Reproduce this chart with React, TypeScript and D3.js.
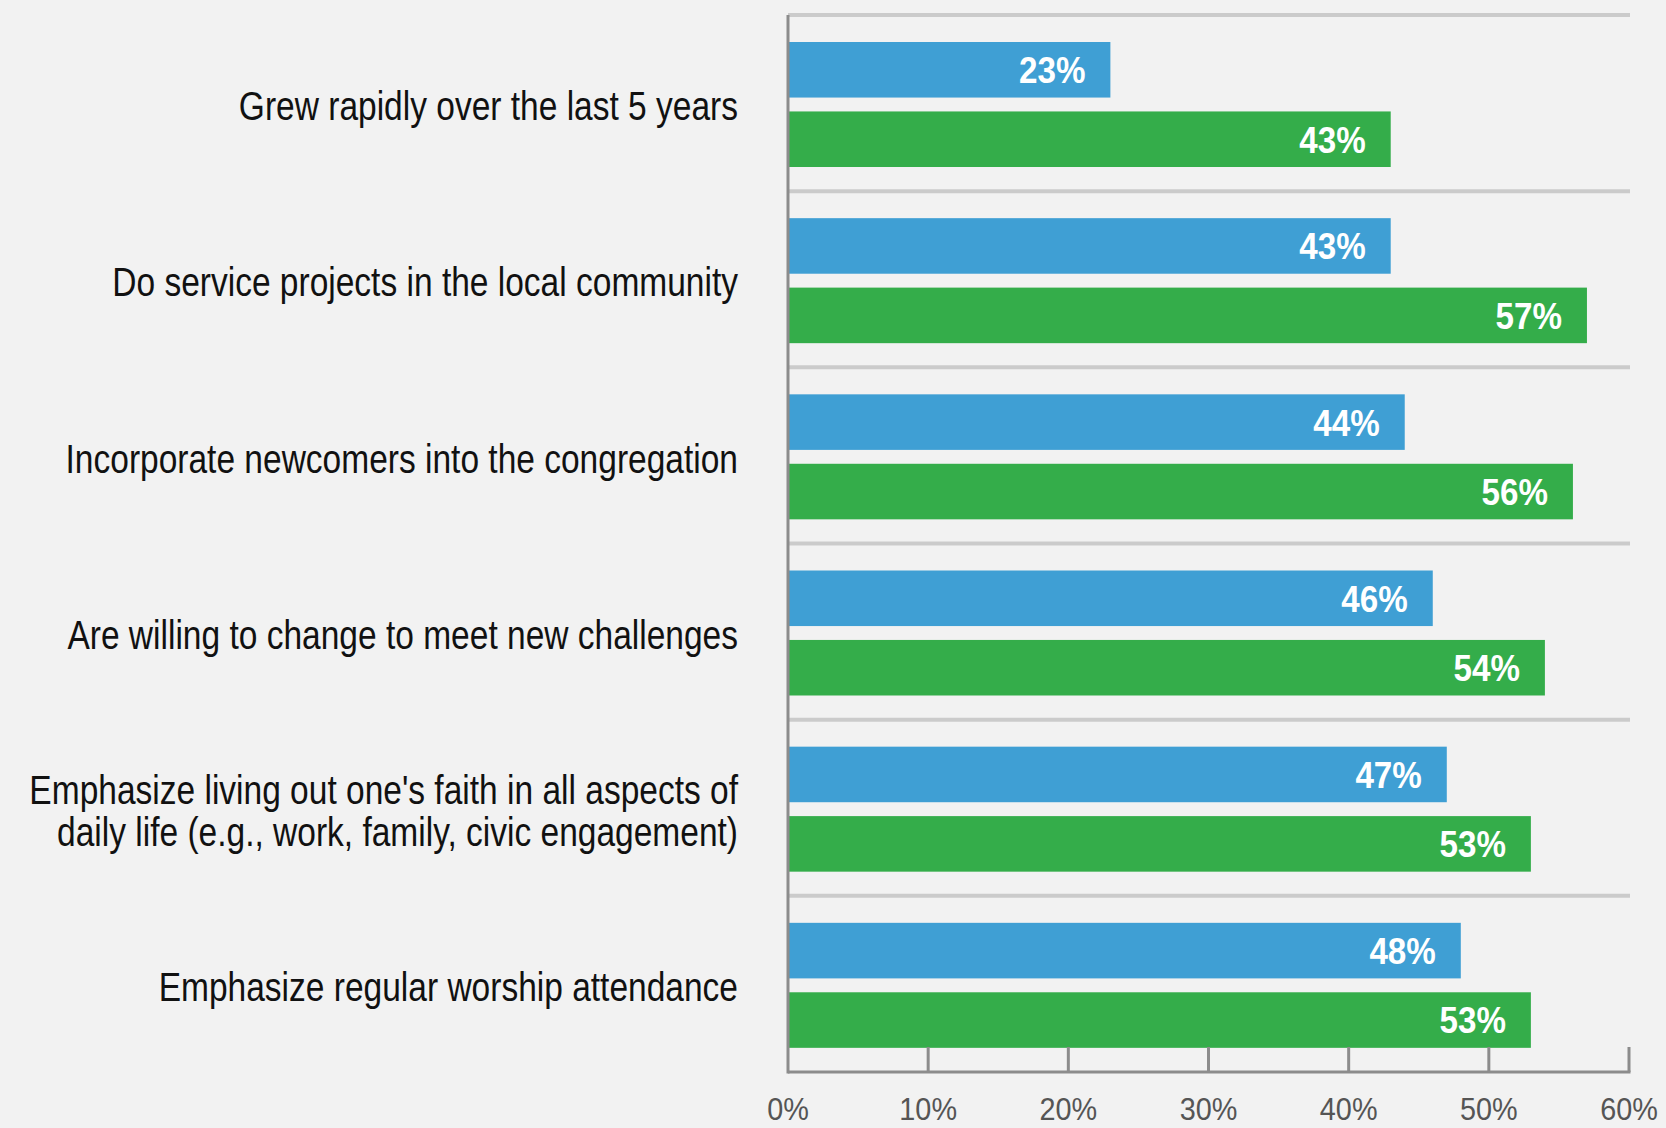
import React from "react";
import * as d3 from "d3";

const categories = [
  ["Grew rapidly over the last 5 years"],
  ["Do service projects in the local community"],
  ["Incorporate newcomers into the congregation"],
  ["Are willing to change to meet new challenges"],
  ["Emphasize living out one's faith in all aspects of", "daily life (e.g., work, family, civic engagement)"],
  ["Emphasize regular worship attendance"],
];
const seriesNames = ["blue", "green"];
const blueValues = [23, 43, 44, 46, 47, 48];
const greenValues = [43, 57, 56, 54, 53, 53];
const tickValues = [0, 10, 20, 30, 40, 50, 60];

const W = 1666;
const H = 1128;
const COLORS: Record<string, string> = { blue: "#3f9fd4", green: "#34ad4a" };
const FONT = "'Liberation Sans', Arial, sans-serif";

export default function App() {
  const keys = categories.map((c) => c.join(" "));
  const x = d3.scaleLinear().domain([0, 60]).range([788, 1629]);
  const y = d3.scaleBand<string>().domain(keys).range([15, 1072]).paddingInner(0).paddingOuter(0);
  const sub = d3.scaleBand<string>().domain(seriesNames).range([27, 152]).paddingInner(0.2);
  const values: Record<string, number[]> = { blue: blueValues, green: greenValues };
  const axisColor = "#8c8c8c";
  const sepColor = "#cbcbcb";
  const yBottom = 1072;

  return (
    <svg width={W} height={H} style={{ position: "absolute", left: 0, top: 0 }} fontFamily={FONT}>
      <rect x={0} y={0} width={W} height={H} fill="#f2f2f2" />
      {/* separators */}
      {keys.map((k) => (
        <line key={"s" + k} x1={x(0)} x2={x(60) + 1} y1={y(k)!} y2={y(k)!} stroke={sepColor} strokeWidth={4} />
      ))}
      {/* bars */}
      {keys.map((k, i) =>
        seriesNames.map((s) => {
          const v = values[s][i];
          const y0 = y(k)! + sub(s)!;
          const bh = sub.bandwidth();
          return (
            <g key={k + s}>
              <rect x={x(0)} y={y0} width={x(v) - x(0)} height={bh} fill={COLORS[s]} />
              <g transform={`translate(${x(v) - 25},${y0 + bh / 2}) scale(0.885,1)`}>
                <text x={0} y={0} dy="0.358em" textAnchor="end" fill="#ffffff" fontWeight="bold" fontSize={37.5}>
                  {v}%
                </text>
              </g>
            </g>
          );
        })
      )}
      {/* category labels */}
      {categories.map((lines, i) => {
        const k = keys[i];
        const cy = y(k)! + 91;
        const lh = 43;
        return (
          <g key={"c" + k} transform={`translate(738,${cy}) scale(0.838,1)`}>
            <text textAnchor="end" fontSize={40} fill="#111111">
              {lines.map((ln, j) => (
                <tspan key={j} x={0} y={(j - (lines.length - 1) / 2) * lh} dy="0.358em">
                  {ln}
                </tspan>
              ))}
            </text>
          </g>
        );
      })}
      {/* axes */}
      <line x1={x(0)} x2={x(0)} y1={15} y2={yBottom + 1.5} stroke={axisColor} strokeWidth={3} />
      <line x1={x(0)} x2={x(60) + 1.5} y1={yBottom} y2={yBottom} stroke={axisColor} strokeWidth={3} />
      {tickValues.map((t) => (
        <g key={"t" + t}>
          {t > 0 && <line x1={x(t)} x2={x(t)} y1={yBottom - 25} y2={yBottom} stroke={axisColor} strokeWidth={3} />}
          <g transform={`translate(${x(t)},1109) scale(0.93,1)`}>
            <text x={0} y={0} dy="0.358em" textAnchor="middle" fontSize={31} fill="#555555">
              {t}%
            </text>
          </g>
        </g>
      ))}
    </svg>
  );
}
